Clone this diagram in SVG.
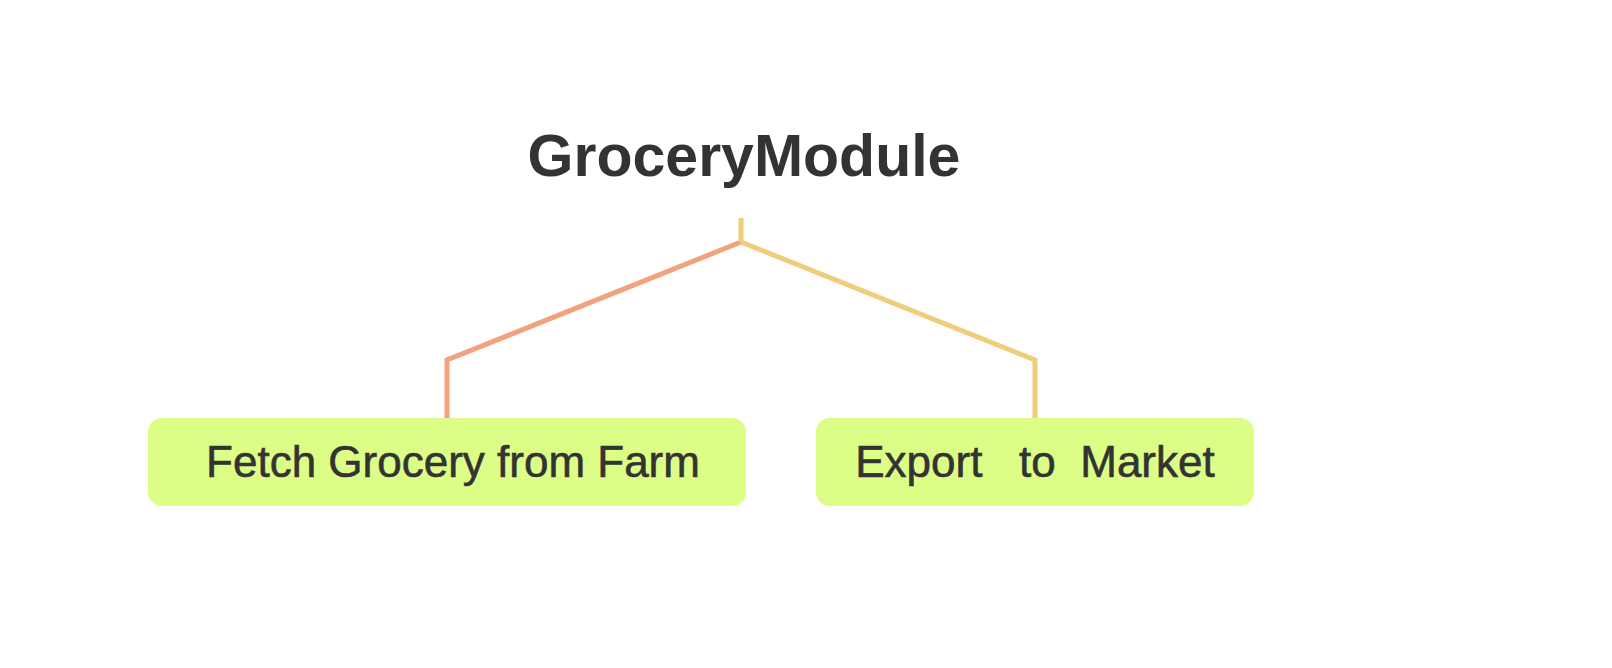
<svg xmlns="http://www.w3.org/2000/svg" width="1612" height="668" viewBox="0 0 1612 668">
  <style>
    .box { fill: #DCFE86; }
    .lbl { font-family: "Liberation Sans", Arial, sans-serif; font-size: 44px; fill: #333333; stroke: #333333; stroke-width: 0.6; white-space: pre; }
    .title { font-family: "Liberation Sans", Arial, sans-serif; font-size: 59px; font-weight: bold; fill: #333333; }
    .edge { fill: none; stroke-width: 5; stroke-linejoin: miter; }
  </style>
  <rect width="1612" height="668" fill="#FFFFFF"/>
  <g id="root">
    <text class="title" x="744" y="176" text-anchor="middle">GroceryModule</text>
  </g>
  <g id="connectors">
    <path class="edge" stroke="#F2A27C" d="M741 242 L447 360 L447 418"/>
    <path class="edge" stroke="#EFCD7B" d="M741 242 L1035 360 L1035 418"/>
    <path class="edge" stroke="#EFCD7B" d="M741 218 L741 242"/>
  </g>
  <g id="node-fetch">
    <rect class="box" x="148" y="418" width="598" height="88" rx="14"/>
    <text class="lbl" x="453" y="477" text-anchor="middle">Fetch Grocery from Farm</text>
  </g>
  <g id="node-export">
    <rect class="box" x="816" y="418" width="438" height="88" rx="14"/>
    <text class="lbl" x="1035" y="477" text-anchor="middle" xml:space="preserve">Export   to  Market</text>
  </g>
</svg>
